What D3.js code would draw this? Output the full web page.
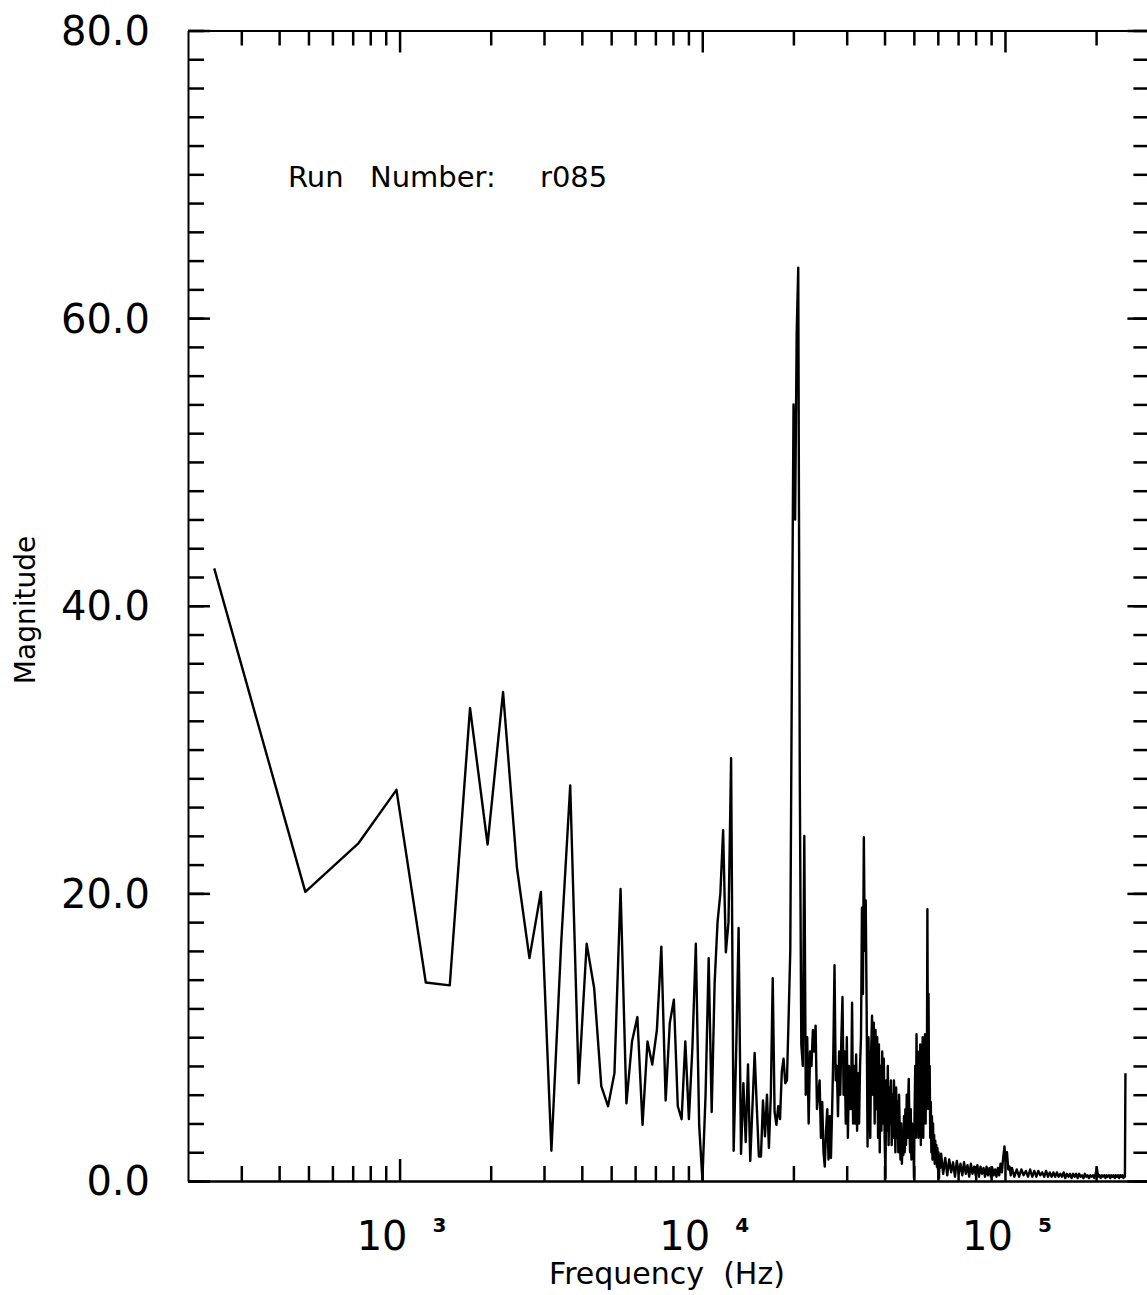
<!DOCTYPE html>
<html>
<head>
<meta charset="utf-8">
<script src="https://cdn.jsdelivr.net/npm/d3@7"></script>
<style>
  body { margin: 0; background: #fff; }
  svg { display: block; }
  text { font-family: "DejaVu Sans", sans-serif; fill: #000; }
</style>
</head>
<body>
<svg width="1147" height="1295"></svg>
<script>
// FFT bin spacing (bins at ~244 Hz steps up to 250 kHz)
var binWidthHz = 250000 / 1024;

// sparse low-frequency part, one value per bin
var lowBins = [1,2,3,4,5,6,7,8,9,10,11,12,13,14,15,16,17,18,19,20,
  21,22,23,24,25,26,27,28,29,30,31,32,33,34,35,36,37,38,39,40,
  41,42,43,44,45,46,47,48,49,50,51,52,53,54,55,56,57,58,59,60,
  61,62,63,64,65,66,67,68,69,70,71,72,73,74,75,76,77,78,79,80];
var lowMag = [42.6,20.1,23.5,27.2,13.8,13.6,32.9,23.4,34.0,21.8,15.5,20.1,2.1,16.5,27.5,6.8,16.5,13.4,6.6,5.2,
  7.5,20.3,5.4,9.7,11.4,3.9,9.7,8.1,10.5,16.3,5.6,11.0,12.6,5.2,4.3,9.7,4.3,9.3,16.5,3.9,
  0.1,6.0,15.5,4.8,13.8,18.0,20.0,24.4,15.9,18.0,29.4,2.1,8.9,17.6,1.9,6.8,2.7,8.1,1.4,5.2,
  8.9,5.2,1.7,1.7,5.6,3.1,6.0,2.3,6.0,14.1,4.8,3.9,5.2,4.3,7.6,8.5,6.8,7.0,11.4,16.0];

// main peak and dense band 20-60 kHz
var midBins = [81,82,83,84,85,86,87,88,89,90,91,92,93,94,95,96,97,98,99,100,
  101,102,103,104,105,106,107,108,109,110,111,112,113,114,115,116,117,118,119,120,
  121,122,123,124,125,126,127,128,129,130,131,132,133,134,135,136,137,138,139,140,
  141,142,143,144,145,146,147,148,149,150,151,152,153,154,155,156,157,158,159,160,
  161,162,163,164,165,166,167,168,169,170,171,172,173,174,175,176,177,178,179,180,
  181,182,183,184,185,186,187,188,189,190,191,192,193,194,195,196,197,198,199,200,
  201,202,203,204,205,206,207,208,209,210,211,212,213,214,215,216,217,218,219,220,
  221,222,223,224,225,226,227,228,229,230,231,232,233,234,235,236,237,238,239,240,
  241,242,243,244,245,246,247,248,249,250];
var midMag = [36,54,46,59,63.5,28,9.5,8,24,6,10,4,9,8,10.5,9,10.8,5,6,7,
  3,5.5,2,1,3.5,5,1.5,4.5,1.6,5,9,15,7,8,4.5,9,6,10,12.8,6,
  9,4,10,3,8,5,5,12.4,4,8,4,8.8,3.5,7.5,4,8,10,19,13,23.9,
  16,19.5,12,2.4,10,6.5,3,9,11.5,6,11,4,10.5,5,10,3,9.5,2,8,3.5,
  9,4,8.5,3,0.2,7,3.5,8,2.5,6.5,4,7,2.5,6,3,7,5,2,6.5,3,
  5.5,2,6,3.5,1.5,4,1.2,3,1.8,4.5,2,5,2.5,6,3,5.5,7.1,4,2,5,
  1.5,4,2,3,0.2,5,8,3,10.2,4,9,3,8.5,4,9.5,2.5,8,5,10,3,
  9,6,10.2,4,9,5,18.9,7,13,5,8,3,5.5,2,4.5,1.5,4,1.8,3.2,1.2,
  2.8,1.4,2.5,1,2.3,0.8,2,0.2,1.8,0.9];

// high-frequency tail, read at coarser steps
var tailBins = [252,256,260,264,268,272,276,280,284,288,292,296,300,304,308,312,316,320,324,328,
  332,336,340,344,348,352,356,360,364,368,372,376,380,384,388,392,396,400,404,408,
  412,416,420,424,428,432,440,448,456,464,472,480,488,496,504,512,520,528,536,544,
  552,560,568,576,584,592,600,608,616,624,632,640,648,656,664,672,680,688,696,704,
  712,720,728,736,744,752,760,768,776,784,792,800,808,816,824,832,840,848,856,864,
  872,880,888,896,904,912,920,928,936,944,952,960,968,976,984,992,1000,1008,1016,1020,1024];
var tailMag = [1.9,0.5,1.6,0.4,1.5,0.6,1.3,0.3,1.4,0.5,1.2,0.4,1.3,0.5,1.1,0.3,1.2,0.5,1.0,0.4,
  1.1,0.3,1.0,0.5,0.9,0.3,1.0,0.4,0.9,0.3,0.9,0.4,0.8,0.3,0.9,0.4,1.2,0.6,1.6,2.4,
  1.4,2.0,0.8,1.0,0.4,0.9,0.3,0.8,0.3,0.8,0.4,0.7,0.3,0.8,0.3,0.7,0.3,0.7,0.4,0.6,
  0.3,0.7,0.3,0.6,0.3,0.6,0.3,0.6,0.3,0.5,0.3,0.6,0.2,0.5,0.3,0.5,0.2,0.5,0.3,0.5,
  0.2,0.5,0.3,0.4,0.2,0.5,0.3,0.4,0.2,0.4,0.3,0.4,0.2,0.5,0.9,0.3,0.4,0.2,0.4,0.3,
  0.4,0.2,0.4,0.3,0.4,0.2,0.4,0.3,0.4,0.2,0.4,0.3,0.4,0.2,0.4,0.3,0.4,0.2,0.4,0.3,7.5];

// axis ticks
var xMajorTicks = [1000, 10000, 100000];
var xMajorExp = ["3", "4", "5"];
var xMinorTicks = [300,400,500,600,700,800,900,2000,3000,4000,5000,6000,7000,8000,9000,
  20000,30000,40000,50000,60000,70000,80000,90000,200000];
var yMajorTicks = [0, 20, 40, 60, 80];
var yMajorLabels = ["0.0", "20.0", "40.0", "60.0", "80.0"];
var yMinorTicks = d3.range(0, 81, 2);

var svg = d3.select("svg");
var x = d3.scaleLog().domain([200, 300000]).range([188, 1149.4]);
var y = d3.scaleLinear().domain([0, 80]).range([1181, 30.5]);

function styleAxis(g, w) {
  g.select(".domain").attr("stroke", "#000").attr("stroke-width", 2);
  g.selectAll(".tick line").attr("stroke", "#000").attr("stroke-width", w);
}

// bottom + top, minor then major
[[d3.axisBottom, 1181], [d3.axisTop, 30.5]].forEach(function (a) {
  svg.append("g").attr("transform", "translate(0," + a[1] + ")")
    .call(a[0](x).tickValues(xMinorTicks).tickSizeInner(-15).tickSizeOuter(0).tickFormat(""))
    .call(styleAxis, 2.5);
  svg.append("g").attr("transform", "translate(0," + a[1] + ")")
    .call(a[0](x).tickValues(xMajorTicks).tickSizeInner(-22).tickSizeOuter(0).tickFormat(""))
    .call(styleAxis, 2.5);
});

// left + right
[[d3.axisLeft, 188], [d3.axisRight, 1149.4]].forEach(function (a) {
  svg.append("g").attr("class", a[1] === 188 ? "yleft" : "yright")
    .attr("transform", "translate(" + a[1] + ",0)")
    .call(a[0](y).tickValues(yMinorTicks).tickSizeInner(-16).tickSizeOuter(0).tickFormat(""))
    .call(styleAxis, 2.5);
  svg.append("g").attr("transform", "translate(" + a[1] + ",0)")
    .call(a[0](y).tickValues(yMajorTicks).tickSizeInner(-22).tickSizeOuter(0).tickFormat(""))
    .call(styleAxis, 2.5);
});
// left spine looks dotted in the scan
svg.select(".yleft .domain").attr("stroke-width", 1).attr("stroke-dasharray", "2,3");

// y labels
svg.selectAll(".ylab").data(yMajorTicks).enter().append("text")
  .attr("class", "ylab")
  .attr("x", 150)
  .attr("y", function (d) { return y(d); })
  .attr("dy", "0.36em")
  .attr("text-anchor", "end")
  .attr("font-size", 40)
  .text(function (d, i) { return yMajorLabels[i]; });

// x labels: 10 with superscript exponent
var xl = svg.selectAll(".xlab").data(xMajorTicks).enter().append("g").attr("class", "xlab");
xl.append("text")
  .attr("x", function (d) { return x(d) + 8; })
  .attr("y", 1250)
  .attr("text-anchor", "end")
  .attr("font-size", 40)
  .text("10");
xl.append("text")
  .attr("x", function (d) { return x(d) + 33; })
  .attr("y", 1232)
  .attr("font-size", 20)
  .attr("font-weight", "bold")
  .text(function (d, i) { return xMajorExp[i]; });

svg.append("text")
  .attr("x", 667).attr("y", 1284)
  .attr("text-anchor", "middle")
  .attr("font-size", 30)
  .style("white-space", "pre")
  .text("Frequency  (Hz)");

svg.append("text")
  .attr("transform", "translate(35,610) rotate(-90)")
  .attr("text-anchor", "middle")
  .attr("font-size", 28)
  .text("Magnitude");

// run number annotation
svg.append("text").attr("x", 288).attr("y", 187).attr("font-size", 29).text("Run");
svg.append("text").attr("x", 370).attr("y", 187).attr("font-size", 29).text("Number:");
svg.append("text").attr("x", 540).attr("y", 187).attr("font-size", 29).text("r085");

// spectrum
var bins = lowBins.concat(midBins, tailBins);
var mags = lowMag.concat(midMag, tailMag);
var data = bins.map(function (b, i) { return { f: b * binWidthHz, m: mags[i] }; });

var line = d3.line()
  .x(function (d) { return x(d.f); })
  .y(function (d) { return y(d.m); });

svg.append("path")
  .datum(data)
  .attr("d", line)
  .attr("fill", "none")
  .attr("stroke", "#000")
  .attr("stroke-width", 2.4)
  .attr("stroke-linejoin", "round");
</script>
</body>
</html>
